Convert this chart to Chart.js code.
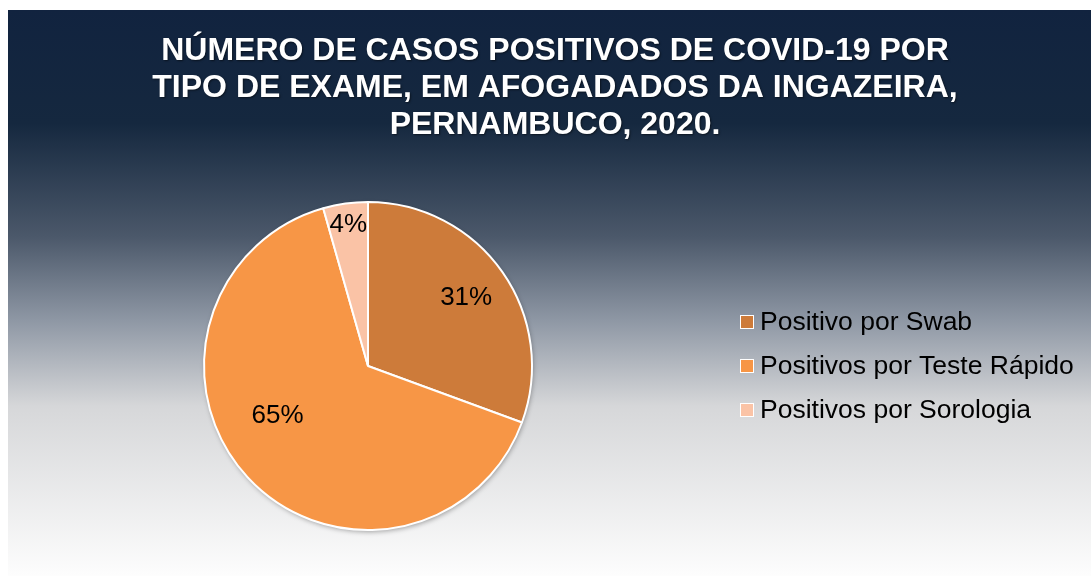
<!DOCTYPE html>
<html>
<head>
<meta charset="utf-8">
<script src="https://cdn.jsdelivr.net/npm/chart.js@4/dist/chart.umd.min.js"></script>
<style>
  html, body { margin: 0; padding: 0; background: #fff; }
  #wrap { width: 1091px; height: 576px; position: relative; }
</style>
</head>
<body>
<div id="wrap"><canvas id="chart" width="1091" height="576"></canvas></div>
<script>
const titleLines = [
  "NÚMERO DE CASOS POSITIVOS DE COVID-19 POR",
  "TIPO DE EXAME, EM AFOGADADOS DA INGAZEIRA,",
  "PERNAMBUCO, 2020."
]
const categories = ["Positivo por Swab", "Positivos por Teste Rápido", "Positivos por Sorologia"]
// shares in % (labels round them)
const values = [30.6, 65.0, 4.4]
const colors = ["#CD7B3A", "#F79646", "#FAC3A6"]

// where each percentage sits: fraction of radius, angle shift in degrees
const labelPlacement = [
  { r: 0.73, shift: 0 },
  { r: 0.63, shift: 14 },
  { r: 0.87, shift: 0 }
]

// panel background with the vertical gradient
const backgroundPlugin = {
  id: "panelBackground",
  beforeDraw(chart) {
    const { ctx, width, height } = chart
    const g = ctx.createLinearGradient(0, 10, 0, height)
    g.addColorStop(0, "#11233f")
    g.addColorStop(0.2, "#15283f")
    g.addColorStop(0.4, "#4b586a")
    g.addColorStop(0.55, "#8f98a5")
    g.addColorStop(0.7, "#d6d7d9")
    g.addColorStop(1, "#fdfdfd")
    ctx.save()
    ctx.fillStyle = "#ffffff"
    ctx.fillRect(0, 0, width, height)
    ctx.fillStyle = g
    ctx.fillRect(8, 10, width - 8, height - 10)
    ctx.restore()
  }
}

// title, slice labels and legend drawn on the canvas
const overlayPlugin = {
  id: "overlay",
  beforeDatasetsDraw(chart) {
    const ctx = chart.ctx
    ctx.save()
    ctx.shadowColor = "rgba(0,0,0,0.35)"
    ctx.shadowBlur = 5
    ctx.shadowOffsetX = 1
    ctx.shadowOffsetY = 2
    const arc = chart.getDatasetMeta(0).data[0]
    ctx.beginPath()
    ctx.arc(arc.x, arc.y, arc.outerRadius, 0, Math.PI * 2)
    ctx.fillStyle = "#ffffff"
    ctx.fill()
    ctx.restore()
  },
  afterDraw(chart) {
    const ctx = chart.ctx
    ctx.save()
    ctx.fillStyle = "#ffffff"
    ctx.shadowColor = "rgba(0,0,0,0.5)"
    ctx.shadowBlur = 2
    ctx.shadowOffsetX = 1
    ctx.shadowOffsetY = 1
    ctx.font = "bold 32px 'Liberation Sans', Arial, sans-serif"
    ctx.textAlign = "center"
    ctx.textBaseline = "middle"
    titleLines.forEach((t, i) => ctx.fillText(t, 555, 51 + i * 37))
    ctx.shadowColor = "transparent"

    // percentages
    const meta = chart.getDatasetMeta(0)
    const total = values.reduce((a, b) => a + b, 0)
    ctx.fillStyle = "#000000"
    ctx.font = "26px 'Liberation Sans', Arial, sans-serif"
    meta.data.forEach((arc, i) => {
      const p = labelPlacement[i]
      const mid = (arc.startAngle + arc.endAngle) / 2 + p.shift * Math.PI / 180
      const r = arc.outerRadius * p.r
      const x = arc.x + Math.cos(mid) * r
      const y = arc.y + Math.sin(mid) * r
      ctx.fillText(Math.round(values[i] / total * 100) + "%", x, y)
    })

    // legend
    ctx.textAlign = "left"
    ctx.font = "26.5px 'Liberation Sans', Arial, sans-serif"
    categories.forEach((c, i) => {
      const y = 322 + i * 44
      ctx.fillStyle = "#ffffff"
      ctx.fillRect(740, y - 7, 14, 14)
      ctx.fillStyle = colors[i]
      ctx.fillRect(741, y - 6, 12, 12)
      ctx.fillStyle = "#000000"
      ctx.fillText(c, 760, y + 1)
    })
    ctx.restore()
  }
}

new Chart(document.getElementById("chart"), {
  type: "pie",
  data: {
    labels: categories,
    datasets: [{
      data: values,
      backgroundColor: colors,
      borderColor: "#ffffff",
      borderWidth: 2
    }]
  },
  options: {
    responsive: false,
    animation: false,
    layout: {
      padding: { left: 203, right: 558, top: 201, bottom: 45 }
    },
    plugins: {
      legend: { display: false },
      title: { display: false },
      tooltip: { enabled: false }
    }
  },
  plugins: [backgroundPlugin, overlayPlugin]
})
</script>
</body>
</html>
